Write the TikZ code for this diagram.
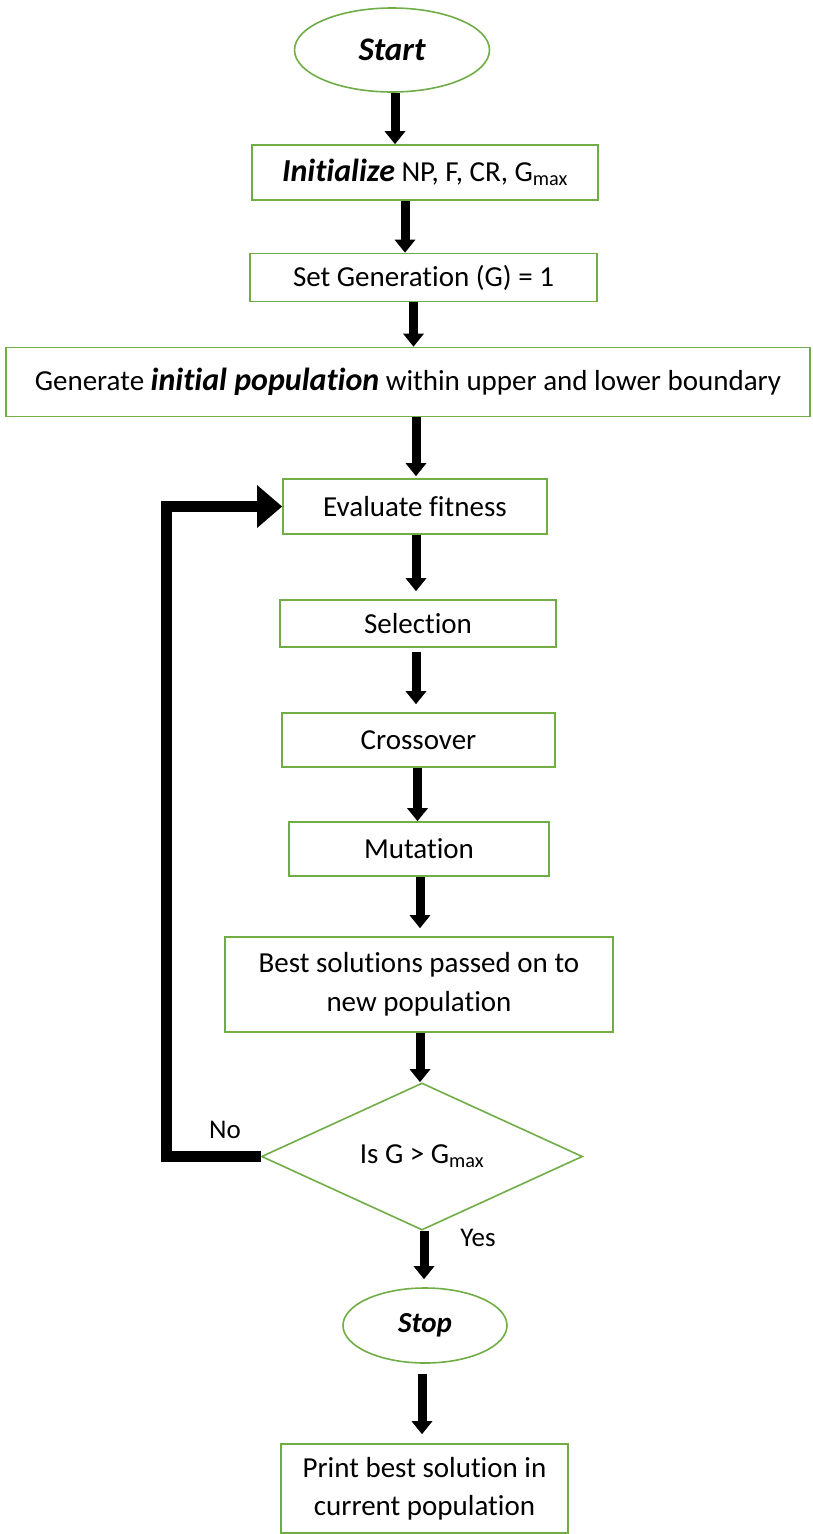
\documentclass[tikz,border=0pt]{standalone}
\usepackage{fontspec}
\setmainfont{Carlito}[Ligatures=NoCommon]
\usepackage{tikz}
\usetikzlibrary{shapes.geometric, arrows.meta, positioning, calc}
\definecolor{boxgreen}{RGB}{112,173,71}
\newcommand{\emphbi}[1]{{\fontsize{32}{38}\selectfont\bfseries\itshape #1}}

\begin{document}
\begin{tikzpicture}[x=1pt, y=-1pt,
    box/.style={rectangle, draw=boxgreen, line width=1.6pt, inner sep=0pt, align=center, font=\fontsize{29}{39}\selectfont},
    term/.style={ellipse, draw=boxgreen, line width=1.6pt, inner sep=0pt, font=\bfseries\itshape},
    decision/.style={diamond, draw=boxgreen, line width=1.6pt, inner sep=0pt, font=\fontsize{29}{34}\selectfont},
    arrow/.style={line width=9pt, -{Triangle[width=20pt, length=13pt]}},
    loopback/.style={line width=11pt, line join=miter, -{Triangle[width=41pt, length=25pt]}},
    lbl/.style={font=\fontsize{27}{30}\selectfont}
]
    \useasboundingbox (0,0) rectangle (812,1534);

    % Setup
    \node[term, minimum width=195, minimum height=84, font=\fontsize{33}{40}\selectfont\bfseries\itshape] (start) at (392, 50) {Start};
    \node[box, minimum width=346, minimum height=55] (init) at (425, 172.5) {\emphbi{Initialize} NP, F, CR, G\textsubscript{max}};
    \node[box, minimum width=347, minimum height=48] (setgen) at (423.5, 277.5) {Set Generation (G) = 1};
    \node[box, minimum width=804, minimum height=69] (gen) at (408, 382) {Generate \emphbi{initial population} within upper and lower boundary};

    % Main loop
    \node[box, minimum width=264, minimum height=55] (eval) at (415, 506.5) {Evaluate fitness};
    \node[box, minimum width=276, minimum height=47] (sel) at (418, 623.5) {Selection};
    \node[box, minimum width=273, minimum height=54] (cross) at (418.5, 740) {Crossover};
    \node[box, minimum width=260, minimum height=54] (mut) at (419, 849) {Mutation};
    \node[box, minimum width=388, minimum height=95] (best) at (419, 984.5) {Best solutions passed on to\\new population};
    \node[decision, minimum width=321, minimum height=121] (dec) at (422, 1156.5) {Is G > G\textsubscript{max}};

    % End
    \node[term, minimum width=164, minimum height=75, font=\fontsize{29}{35}\selectfont\bfseries\itshape] (stop) at (425, 1325.5) {Stop};
    \node[box, minimum width=287, minimum height=89, font=\fontsize{29}{38}\selectfont] (print) at (424.5, 1488.5) {Print best solution in\\current population};

    % Labels
    \node[lbl] (no) at (225, 1130) {No};
    \node[lbl] (yes) at (478, 1238) {Yes};

    % Arrows
    \draw[arrow] ([xshift=3pt]start.south) -- ([xshift=3pt]start.south |- init.north);
    \draw[arrow] ([xshift=-20pt]init.south) -- ([xshift=-20pt]init.south |- setgen.north);
    \draw[arrow] ([xshift=-10pt]setgen.south) -- ([xshift=-10pt]setgen.south |- gen.north);
    \draw[arrow, shorten >=2pt] ([xshift=8pt]gen.south) -- ([xshift=8pt]gen.south |- eval.north);
    \draw[arrow, shorten >=8pt] ([xshift=1pt]eval.south) -- ([xshift=1pt]eval.south |- sel.north);
    \draw[arrow, shorten <=4pt, shorten >=8pt] ([xshift=-2pt]sel.south) -- ([xshift=-2pt]sel.south |- cross.north);
    \draw[arrow] ([xshift=-1pt]cross.south) -- ([xshift=-1pt]cross.south |- mut.north);
    \draw[arrow, shorten >=8pt] ([xshift=1pt]mut.south) -- ([xshift=1pt]mut.south |- best.north);
    \draw[arrow] ([xshift=1pt]best.south) -- ([xshift=1pt]best.south |- dec.north);
    \draw[arrow, shorten >=8pt] ([xshift=2pt]dec.south) -- ([xshift=2pt]dec.south |- stop.north);
    \draw[arrow, shorten <=10pt, shorten >=9pt] ([xshift=-3pt]stop.south) -- ([xshift=-3pt]stop.south |- print.north);

    % Back to evaluation
    \draw[loopback] (dec.west) -| ([xshift=-116pt]eval.west) -- (eval.west);
\end{tikzpicture}
\end{document}
